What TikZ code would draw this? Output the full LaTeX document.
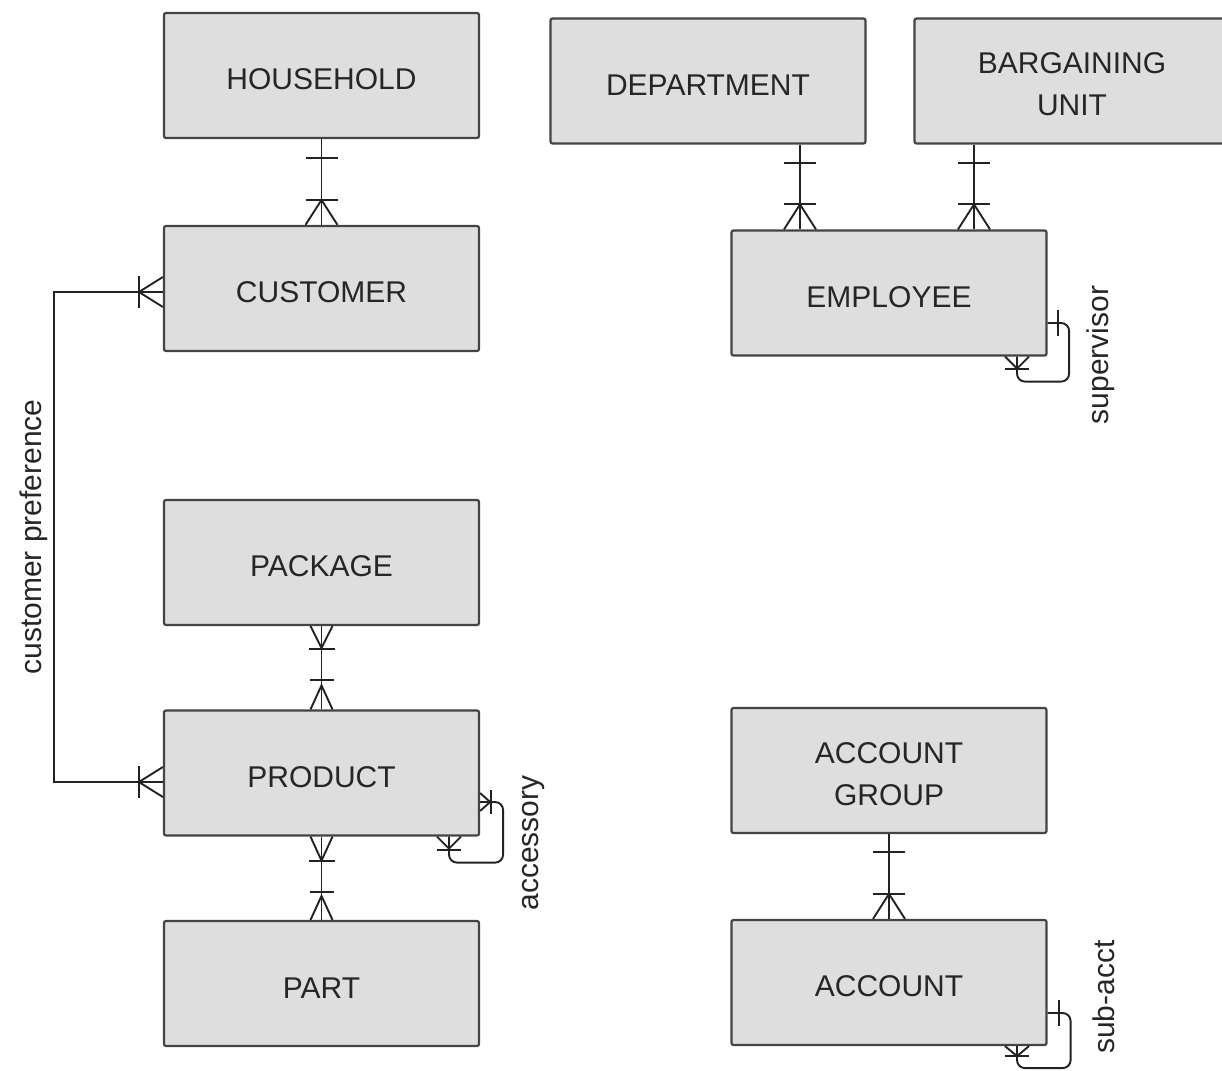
\documentclass[tikz,border=0pt]{standalone}
\usepackage{fontspec}
\setmainfont{Liberation Sans}
\usetikzlibrary{calc}

\definecolor{boxfill}{HTML}{DEDEDE}
\definecolor{boxline}{HTML}{444444}
\definecolor{linecol}{HTML}{222222}
\definecolor{textcol}{HTML}{262626}

\tikzset{
  entity/.style={draw=boxline, fill=boxfill, line width=2.2pt, rounded corners=2pt,
    minimum width=315pt, minimum height=125pt, inner sep=0pt, text=textcol,
    font=\fontsize{30}{42}\selectfont, align=center, text height=29pt},
  twoline/.style={text height=70pt},
  rel/.style={draw=linecol, line width=1.9pt},
  rolelabel/.style={rotate=90, anchor=base, text=textcol, font=\fontsize{30}{36}\selectfont},
  % single bar, d from the box edge, half-width w
  pics/onemark/.style 2 args={code={\draw[rel] (#1,-#2) -- (#1,#2);}},
  % crow's foot of length #1 and half-width #2, with a bar at #3
  pics/manymark/.style n args={4}{code={
    \draw[rel, line join=miter] (0,-#2) -- (#1,0) -- (0,#2);
    \draw[rel] (#3,-#4) -- (#3,#4);}},
}

\begin{document}
\begin{tikzpicture}[x=1pt, y=-1pt]
  \useasboundingbox (0,0) rectangle (1222,1070);
  \clip (0,0) rectangle (1222,1070);

  % entities
  \node[entity] (hh)   at (321.5,75.5)  {HOUSEHOLD};
  \node[entity] (cu)   at (321.5,288.5) {CUSTOMER};
  \node[entity] (dept) at (708,81)      {DEPARTMENT};
  \node[entity, twoline] (bu) at (1072,81) {BARGAINING\\UNIT};
  \node[entity] (emp)  at (889,293)     {EMPLOYEE};
  \node[entity] (pk)   at (321.5,562.5) {PACKAGE};
  \node[entity] (pr)   at (321.5,773)   {PRODUCT};
  \node[entity] (pt)   at (321.5,983.5) {PART};
  \node[entity, twoline] (ag) at (889,770.5) {ACCOUNT\\GROUP};
  \node[entity] (ac)   at (889,982.5)   {ACCOUNT};

  % household -- customer
  \draw[rel] (hh.south) -- (cu.north);
  \pic[rotate=-90] at (hh.south) {onemark={19}{16}};
  \pic[rotate=90]  at (cu.north) {manymark={25}{16}{25}{16}};

  % department -- employee
  \coordinate (d1) at ([xshift=92pt]dept.south);
  \draw[rel] (d1) -- (d1 |- emp.north);
  \pic[rotate=-90] at (d1) {onemark={18}{16}};
  \pic[rotate=90]  at (d1 |- emp.north) {manymark={25}{16}{25}{16}};

  % bargaining unit -- employee
  \coordinate (b1) at ([xshift=-98pt]bu.south);
  \draw[rel] (b1) -- (b1 |- emp.north);
  \pic[rotate=-90] at (b1) {onemark={18}{16}};
  \pic[rotate=90]  at (b1 |- emp.north) {manymark={25}{16}{25}{16}};

  % supervisor (employee to itself)
  \coordinate (e1) at ([yshift=-30pt]emp.east);
  \coordinate (e2) at ([xshift=128pt]emp.south);
  \draw[rel, rounded corners=8pt] (e1) -- ++(21.5,0) |- ([yshift=-25pt]e2) -- (e2);
  \pic at (e1) {onemark={10.5}{13}};
  \pic[rotate=-90] at (e2) {manymark={12}{12}{12}{12}};
  \node[rolelabel] (supl) at (1108,355) {supervisor};

  % customer preference
  \coordinate (c1) at ([yshift=-3.5pt]cu.west);
  \coordinate (c2) at ([yshift=-9pt]pr.west);
  \draw[rel] (c1) -- ++(-109,0) |- (c2);
  \pic[rotate=180] at (c1) {manymark={24}{15}{24}{16}};
  \pic[rotate=180] at (c2) {manymark={24}{15}{24}{16}};
  \node[rolelabel] (cpl) at (41,537) {customer preference};

  % package -- product
  \draw[rel] (pk.south) -- (pr.north);
  \pic[rotate=-90] at (pk.south) {manymark={22}{11}{23}{13}};
  \pic[rotate=90]  at (pr.north) {manymark={24}{11}{29}{12}};

  % product -- part
  \draw[rel] (pr.south) -- (pt.north);
  \pic[rotate=-90] at (pr.south) {manymark={24}{11}{24}{13}};
  \pic[rotate=90]  at (pt.north) {manymark={24}{11}{28}{12}};

  % accessory (product to itself)
  \coordinate (p1) at ([yshift=-29pt]pr.east);
  \coordinate (p2) at ([xshift=127.5pt]pr.south);
  \draw[rel, rounded corners=8pt] (p1) -- ++(23,0) |- ([yshift=-26pt]p2) -- (p2);
  \pic at (p1) {manymark={10}{9}{11}{12}};
  \pic[rotate=-90] at (p2) {manymark={12}{12}{13}{12}};
  \node[rolelabel] (accl) at (538,843) {accessory};

  % account group -- account
  \draw[rel] (ag.south) -- (ac.north);
  \pic[rotate=-90] at (ag.south) {onemark={18}{16}};
  \pic[rotate=90]  at (ac.north) {manymark={25}{16}{25}{16}};

  % sub-acct (account to itself)
  \coordinate (a1) at ([yshift=-30.5pt]ac.east);
  \coordinate (a2) at ([xshift=128pt]ac.south);
  \draw[rel, rounded corners=8pt] (a1) -- ++(23,0) |- ([yshift=-22pt]a2) -- (a2);
  \pic at (a1) {onemark={11}{13}};
  \pic[rotate=-90] at (a2) {manymark={10}{12}{10}{12}};
  \node[rolelabel] (subl) at (1114,997) {sub-acct};
\end{tikzpicture}
\end{document}
